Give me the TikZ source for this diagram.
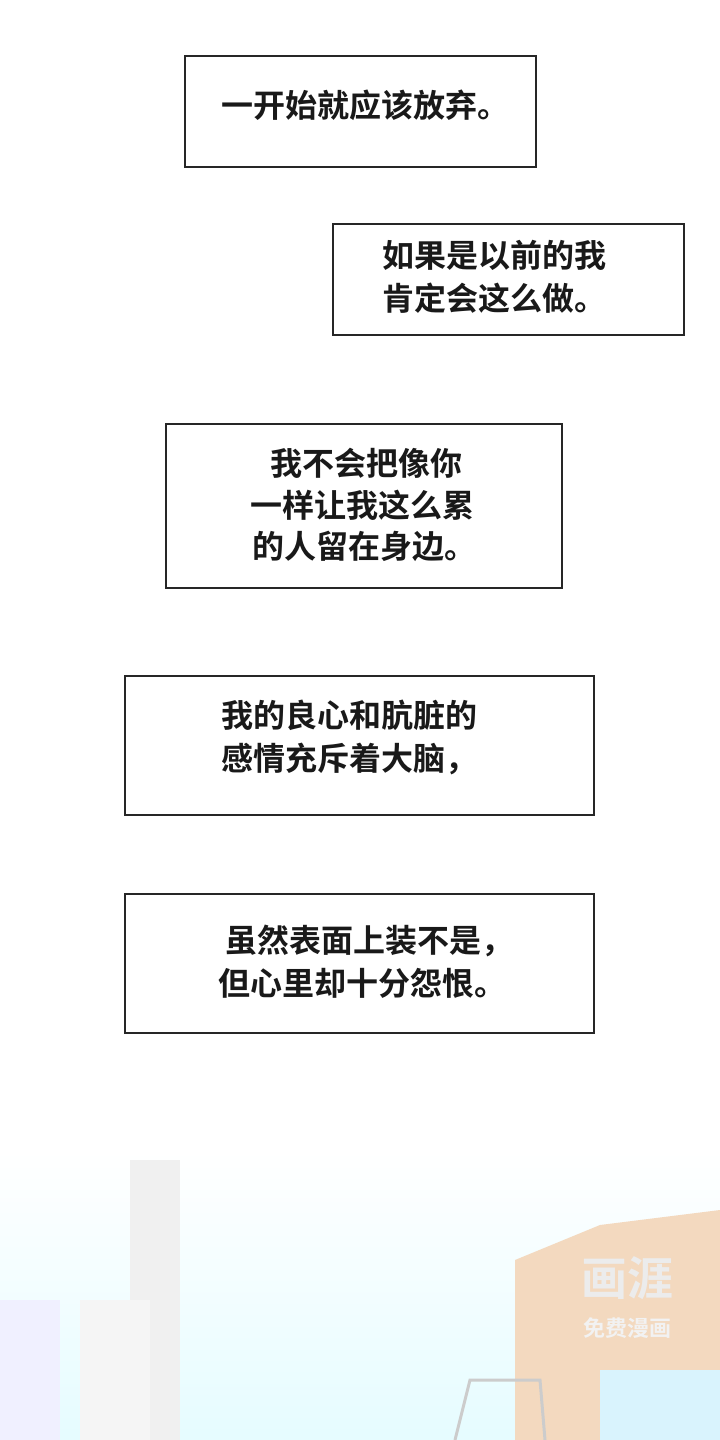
\documentclass[tikz,border=0pt]{standalone}
\usepackage{fontspec}
\newfontfamily\cjk{Noto Sans CJK SC Bold}
\begin{document}
\begin{tikzpicture}[x=1pt,y=-1pt,
  box/.style={draw=black!85,line width=1.6pt,fill=white},
  txt/.style={font=\cjk\fontsize{32}{43}\selectfont,anchor=north west,align=left,inner sep=0pt,text=black!90},
  wm/.style={font=\cjk\fontsize{22}{24}\selectfont,text=white,inner sep=0pt}]
\useasboundingbox (0,0) rectangle (720,1440);
\fill[white] (0,0) rectangle (720,1440);
% faint background scene
\shade[top color=white,bottom color=blue!12!cyan!10] (0,1150) rectangle (720,1440);
\fill[blue!6] (0,1300) rectangle (60,1440);
\fill[gray!12] (130,1160) rectangle (180,1440);
\fill[gray!8] (80,1300) rectangle (150,1440);
\fill[orange!35!brown!30] (515,1260) -- (600,1225) -- (720,1210) -- (720,1440) -- (515,1440) -- cycle;
\fill[white!85!cyan] (600,1370) rectangle (720,1440);
\draw[gray!40,line width=3pt] (455,1440) -- (470,1380) -- (540,1380) -- (545,1440);
\node[wm,text=gray!15] (w1) at (627,1278) {\fontsize{46}{48}\selectfont 画涯};
\node[wm,text=gray!10] (w2) at (627,1328) {免费漫画};
% boxes
\node[box,minimum width=351pt,minimum height=111pt,anchor=north west] (b1) at (184,55) {};
\node[txt] (t1) at (221,90) {一开始就应该放弃。};
\node[box,minimum width=351pt,minimum height=111pt,anchor=north west] (b2) at (332,223) {};
\node[txt] (t2) at (382,240) {如果是以前的我\\肯定会这么做。};
\node[box,minimum width=396pt,minimum height=164pt,anchor=north west] (b3) at (165,423) {};
\node[txt] (t3a) at (270,448) {我不会把像你};
\node[txt] (t3b) at (250,490) {一样让我这么累};
\node[txt] (t3c) at (252,531) {的人留在身边。};
\node[box,minimum width=469pt,minimum height=139pt,anchor=north west] (b4) at (124,675) {};
\node[txt] (t4) at (221,700) {我的良心和肮脏的\\感情充斥着大脑，};
\node[box,minimum width=469pt,minimum height=139pt,anchor=north west] (b5) at (124,893) {};
\node[txt] (t5a) at (225,925) {虽然表面上装不是，};
\node[txt] (t5b) at (218,968) {但心里却十分怨恨。};
\end{tikzpicture}
\end{document}
